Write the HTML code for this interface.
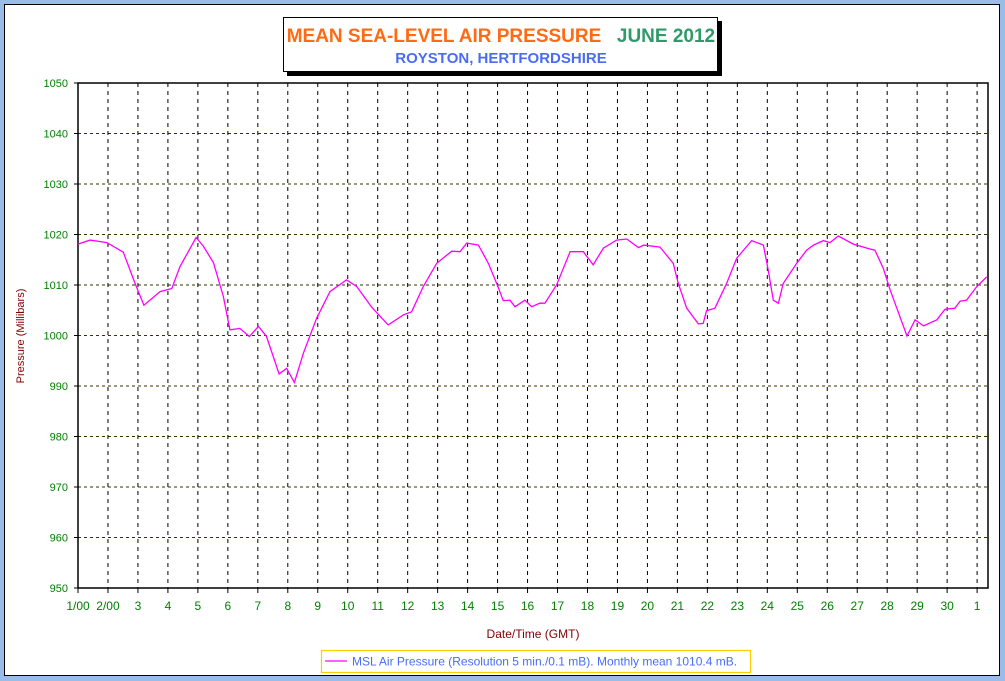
<!DOCTYPE html>
<html><head><meta charset="utf-8"><style>
html,body{margin:0;padding:0;background:#99bde8;}
svg{display:block;font-family:"Liberation Sans",Arial,sans-serif;}
</style></head><body>
<svg id="chart" width="1005" height="681" viewBox="0 0 1005 681" xmlns="http://www.w3.org/2000/svg">
<rect x="0" y="0" width="1005" height="681" fill="#99bde8"/>
<rect x="4.5" y="4.5" width="995" height="671" fill="#fff" stroke="#000" stroke-width="1"/>
<g>
<rect x="287" y="21" width="435" height="55" fill="#000"/>
<rect x="283.5" y="17.5" width="434" height="54" fill="#fff" stroke="#000"/>
<text x="444" y="42" font-size="19" font-weight="bold" fill="#ff6a13" text-anchor="middle">MEAN SEA-LEVEL AIR PRESSURE</text>
<text x="666" y="42" font-size="19" font-weight="bold" fill="#2e9a6a" text-anchor="middle">JUNE 2012</text>
<text x="501" y="63" font-size="15" font-weight="bold" fill="#4a6cf5" text-anchor="middle">ROYSTON, HERTFORDSHIRE</text>
</g>
<g id="grid"></g>
<g id="axes"></g>
<polyline id="series" fill="none" stroke="#ff00ff" stroke-width="1.3"/>
<text x="24" y="336" font-size="11" fill="#800000" text-anchor="middle" transform="rotate(-90 24 336)">Pressure (Millibars)</text>
<text x="533" y="638" font-size="12" fill="#800000" text-anchor="middle">Date/Time (GMT)</text>
<g>
<rect x="321.5" y="650.5" width="429" height="22" fill="#fff" stroke="#ffcc00" stroke-width="1.2"/>
<line x1="325" y1="661" x2="347" y2="661" stroke="#ff00ff" stroke-width="1.3"/>
<text x="352" y="665.5" font-size="12" fill="#4a6cf5">MSL Air Pressure (Resolution 5 min./0.1 mB). Monthly mean 1010.4 mB.</text>
</g>
</svg>
<script>
const times=[0,0.4,0.96,1.51,1.9,2.2,2.74,3.13,3.4,3.94,4.18,4.52,4.85,5.07,5.4,5.72,6.02,6.29,6.71,6.96,7.22,7.52,7.96,8.41,8.96,9.3,9.8,10.35,10.86,11.13,11.52,11.97,12.47,12.75,12.97,13.36,13.69,13.97,14.19,14.41,14.58,14.91,15.14,15.41,15.58,15.97,16.42,16.86,17.19,17.53,17.97,18.31,18.7,18.88,19.42,19.86,20.03,20.31,20.7,20.86,20.97,21.25,21.64,21.98,22.48,22.87,23.03,23.2,23.37,23.53,23.98,24.31,24.54,24.87,25.09,25.37,25.87,26.32,26.59,26.87,27.1,27.32,27.66,27.93,28.21,28.66,28.93,29.26,29.43,29.65,29.99,30.32];
const pressure=[1018.1,1018.9,1018.4,1016.5,1010.4,1006.0,1008.7,1009.3,1013.6,1019.4,1017.7,1014.4,1007.7,1001.1,1001.4,999.8,1001.8,999.8,992.4,993.5,990.7,996.5,1003.4,1008.7,1011.0,1009.7,1005.6,1002.1,1004.1,1004.7,1009.7,1014.3,1016.7,1016.6,1018.3,1017.9,1014.3,1010.3,1006.9,1007.0,1005.7,1007.0,1005.7,1006.4,1006.4,1010.0,1016.6,1016.6,1014.0,1017.3,1018.9,1019.1,1017.4,1017.9,1017.5,1014.3,1010.3,1005.4,1002.3,1002.4,1004.9,1005.4,1010.3,1015.3,1018.8,1017.9,1013.0,1007.0,1006.4,1010.3,1014.3,1016.9,1017.9,1018.8,1018.4,1019.7,1018.1,1017.3,1016.9,1013.3,1009.0,1005.4,999.9,1003.1,1001.9,1003.1,1005.2,1005.4,1006.8,1007.0,1009.7,1011.6];
const yTicks=[950,960,970,980,990,1000,1010,1020,1030,1040,1050];
const xLabels=["1/00","2/00","3","4","5","6","7","8","9","10","11","12","13","14","15","16","17","18","19","20","21","22","23","24","25","26","27","28","29","30","1"];
const X0=78,PX_DAY=29.97,Y0=588,PX_MB=5.05,XMAX=988;
const xs=t=>X0+t*PX_DAY, ys=v=>Y0-(v-950)*PX_MB;
const NS="http://www.w3.org/2000/svg";
const grid=document.getElementById('grid'),axes=document.getElementById('axes');
function mk(tag,attrs,parent){const e=document.createElementNS(NS,tag);for(const k in attrs)e.setAttribute(k,attrs[k]);parent.appendChild(e);return e;}
yTicks.forEach(v=>{const y=ys(v);
 if(v>950&&v<1050){const l=mk('line',{x1:X0,x2:XMAX,y1:y,y2:y,stroke:'#333300','stroke-dasharray':'3,3','stroke-width':1},grid);
 
 }
 mk('line',{x1:X0-4,x2:X0,y1:y,y2:y,stroke:'#000'},axes);
 const t=mk('text',{x:X0-10,y:y+4,'font-size':11,fill:'#008000','text-anchor':'end'},axes);
 
 
 t.textContent=v;});
xLabels.forEach((s,i)=>{const x=xs(i);
 if(i>0){const l=mk('line',{x1:x,x2:x,y1:ys(1050),y2:Y0,stroke:'#000','stroke-dasharray':'4,4','stroke-width':1},grid);
 
 }
 mk('line',{x1:x,x2:x,y1:Y0,y2:Y0+5,stroke:'#000'},axes);
 const t=mk('text',{x:x,y:Y0+22,'font-size':12,fill:'#008000','text-anchor':'middle'},axes);
 
 
 t.textContent=s;});
const fr=mk('rect',{x:X0,y:ys(1050),width:XMAX-X0,height:Y0-ys(1050),fill:'none',stroke:'#000','stroke-width':1.5},axes);


document.getElementById('series').setAttribute('points',times.map((t,i)=>xs(t).toFixed(1)+','+ys(pressure[i]).toFixed(1)).join(' '));
</script>
</body></html>
